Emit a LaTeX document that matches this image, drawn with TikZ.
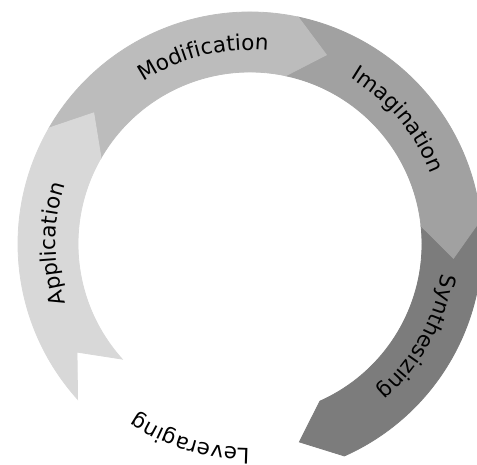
\documentclass[tikz,border=0pt]{standalone}
\usepackage{fontspec}
\setmainfont{DejaVu Sans}
\usetikzlibrary{decorations.text}

% ring geometry (pt): outer, middle and inner radius, chevron depth in degrees
\def\Ro{232}
\def\Rm{204}
\def\Ri{172}
\def\D{10}

% one chevron segment of the ring, running clockwise from tail angle #2 to head angle #3
\newcommand\ringseg[3]{%
  \fill[segment, #1] (#2:\Ro) arc[start angle=#2, end angle=#3, radius=\Ro]
    -- ({#3-\D}:\Rm) -- (#3:\Ri)
    arc[start angle=#3, end angle=#2, radius=\Ri]
    -- ({#2-\D}:\Rm) -- cycle;}

% label set along the ring at baseline radius #1, centred on angle #2
\newcommand\ringlabel[3][194]{%
  \path[decorate, decoration={text along path, text align=center,
      text={|\fontsize{21.5}{22}\selectfont|#3}}]
    ({#2+50}:#1) arc[start angle={#2+50}, end angle={#2-50}, radius=#1];}

\definecolor{applyfill}{HTML}{D8D8D8}
\definecolor{modfill}{HTML}{BCBCBC}
\definecolor{imagfill}{HTML}{A1A1A1}
\definecolor{synthfill}{HTML}{7C7C7C}

\tikzset{segment/.style={draw=white, line width=0.8pt, line join=miter}}

\begin{document}
\begin{tikzpicture}[x=1pt, y=1pt]
  \useasboundingbox (-250,-220) rectangle (227,244);
  \clip (-250,-220) rectangle (227,244);

  \ringseg{synthfill}{6}{-66}
  \ringseg{imagfill}{78}{6}
  \ringseg{modfill}{150}{78}
  \ringseg{applyfill}{222}{150}

  \ringlabel{180}{Application}
  \ringlabel{104}{Modification}
  \ringlabel{40}{Imagination}
  \ringlabel{-29}{Synthesizing}
  \ringlabel[204]{-107}{Leveraging}
\end{tikzpicture}
\end{document}
